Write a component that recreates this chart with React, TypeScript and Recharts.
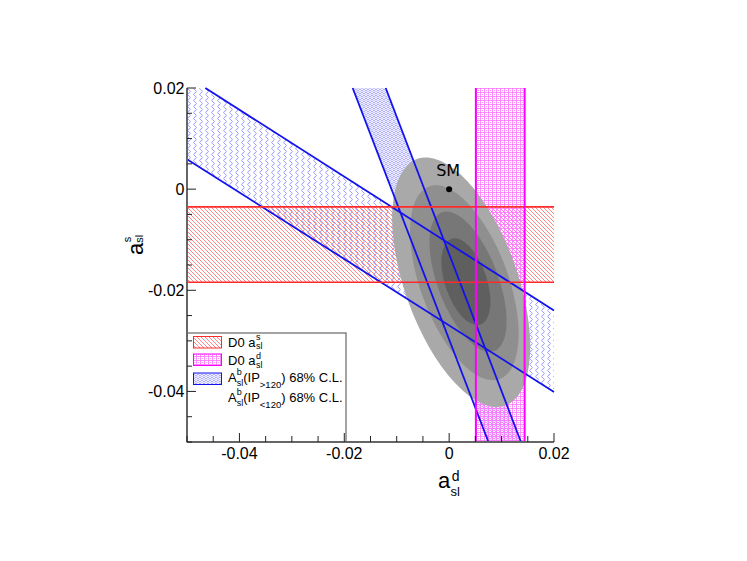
import { ScatterChart, Scatter, XAxis, YAxis, ReferenceLine } from "recharts";
import * as R from "recharts";

// axes
const X_DOMAIN = [-0.05, 0.02];
const Y_DOMAIN = [-0.05, 0.02];
const axisTicks = [
  -0.05, -0.045, -0.04, -0.035, -0.03, -0.025, -0.02, -0.015, -0.01, -0.005,
  0, 0.005, 0.01, 0.015, 0.02,
];
const xLabelTicks = [-0.04, -0.02, 0, 0.02];
const yLabelTicks = [0.02, 0, -0.02, -0.04];

// D0 a_sl^s : horizontal band (y range)
const d0AslsBand = [-0.0184, -0.0035];
// D0 a_sl^d : vertical band (x range)
const d0AsldBand = [0.0051, 0.0144];

// A_sl^b(IP) bands, edges where they meet the frame
const ipAboveUpper = [
  { x: -0.0465, y: 0.02 },
  { x: 0.02, y: -0.024 },
];
const ipAboveLower = [
  { x: -0.05, y: 0.0059 },
  { x: 0.02, y: -0.0401 },
];
const ipBelowLeft = [
  { x: -0.0184, y: 0.02 },
  { x: 0.0075, y: -0.05 },
];
const ipBelowRight = [
  { x: -0.0121, y: 0.02 },
  { x: 0.0137, y: -0.05 },
];

// combined fit contours, outer to inner
const ellipseCx = [0.0023, 0.0029, 0.0036, 0.0032];
const ellipseCy = [-0.0184, -0.0185, -0.0183, -0.0183];
const ellipseA = [0.0258, 0.0202, 0.0146, 0.0089];
const ellipseB = [0.0108, 0.0084, 0.0058, 0.004];
const ellipseAngle = [-71, -70.5, -70, -72];

const smPoint = [{ x: 0, y: 0 }];

const ELLIPSE_FILLS = ["#a9a9a9", "#8f8f8f", "#777777", "#5f5f5f"];
const BLUE = "#1212ee";
const RED = "#ff2a2a";
const MAGENTA = "#ff00ff";
const FRAME = "#666";
const FONT = "'Liberation Sans', Arial, Helvetica, sans-serif";

const CHART_W = 747;
const CHART_H = 561;
const Y_AXIS_W = 60;
const X_AXIS_H = 30;
const MARGIN = { top: 88, right: 193, bottom: 89, left: 127 };

function usePlot() {
  const plotHook = (R as any).usePlotArea;
  const area = plotHook ? plotHook() : undefined;
  if (area && area.width) return area;
  return {
    x: MARGIN.left + Y_AXIS_W,
    y: MARGIN.top,
    width: CHART_W - MARGIN.left - Y_AXIS_W - MARGIN.right,
    height: CHART_H - MARGIN.top - MARGIN.bottom - X_AXIS_H,
  };
}

function useScales() {
  const p = usePlot();
  const sx = (v: number) =>
    p.x + ((v - X_DOMAIN[0]) / (X_DOMAIN[1] - X_DOMAIN[0])) * p.width;
  const sy = (v: number) =>
    p.y + ((Y_DOMAIN[1] - v) / (Y_DOMAIN[1] - Y_DOMAIN[0])) * p.height;
  return { sx, sy, p };
}

const isLabel = (v: number, list: number[]) =>
  list.some((t) => Math.abs(t - v) < 1e-9);
const fmt = (v: number) => (Math.abs(v) < 1e-9 ? "0" : String(v));

function Patterns() {
  return (
    <defs>
      <pattern id="redHatch" patternUnits="userSpaceOnUse" width="4" height="4">
        <path d="M-1,-1 L5,5 M-1,3 L1,5 M3,-1 L5,1" stroke="#ff7a7a" strokeWidth="0.9" />
      </pattern>
      <pattern id="magentaGrid" patternUnits="userSpaceOnUse" width="4" height="4">
        <path d="M0,0.5 H4 M0.5,0 V4 M2.5,2 V3" stroke="#ff70ff" strokeWidth="0.8" fill="none" />
      </pattern>
      <pattern id="blueWave" patternUnits="userSpaceOnUse" width="6" height="6">
        <path
          d="M3,0 C4.8,1 4.8,2 3,3 C1.2,4 1.2,5 3,6"
          stroke="#9a9aff"
          strokeWidth="1"
          fill="none"
        />
      </pattern>
      <pattern id="blueDots" patternUnits="userSpaceOnUse" width="4" height="6">
        <circle cx="2" cy="1.5" r="1.2" stroke="#8a8aff" strokeWidth="0.7" fill="none" />
        <circle cx="0" cy="4.5" r="1.2" stroke="#8a8aff" strokeWidth="0.7" fill="none" />
        <circle cx="4" cy="4.5" r="1.2" stroke="#8a8aff" strokeWidth="0.7" fill="none" />
      </pattern>
    </defs>
  );
}

function Fills() {
  const { sx, sy } = useScales();
  const poly = (pts: { x: number; y: number }[]) =>
    pts.map((q) => `${sx(q.x)},${sy(q.y)}`).join(" ");

  const aboveBand = [
    { x: X_DOMAIN[0], y: Y_DOMAIN[1] },
    ...ipAboveUpper,
    ...[...ipAboveLower].reverse(),
  ];
  const belowBand = [...ipBelowLeft, ...[...ipBelowRight].reverse()];

  return (
    <g>
      <Patterns />
      <polygon points={poly(aboveBand)} fill="url(#blueWave)" />
      <polygon points={poly(belowBand)} fill="url(#blueDots)" />
      <rect
        x={sx(X_DOMAIN[0])}
        y={sy(d0AslsBand[1])}
        width={sx(X_DOMAIN[1]) - sx(X_DOMAIN[0])}
        height={sy(d0AslsBand[0]) - sy(d0AslsBand[1])}
        fill="url(#redHatch)"
      />
      <rect
        x={sx(d0AsldBand[0])}
        y={sy(Y_DOMAIN[1])}
        width={sx(d0AsldBand[1]) - sx(d0AsldBand[0])}
        height={sy(Y_DOMAIN[0]) - sy(Y_DOMAIN[1])}
        fill="url(#magentaGrid)"
      />
      {ellipseCx.map((cx, i) => {
        const cy = ellipseCy[i];
        const a = ellipseA[i];
        const b = ellipseB[i];
        const th = (ellipseAngle[i] * Math.PI) / 180;
        const c0 = sx(cx);
        const c1 = sy(cy);
        const ux = sx(cx + a * Math.cos(th)) - c0;
        const uy = sy(cy + a * Math.sin(th)) - c1;
        const vx = sx(cx - b * Math.sin(th)) - c0;
        const vy = sy(cy + b * Math.cos(th)) - c1;
        const rot = (Math.atan2(uy, ux) * 180) / Math.PI;
        return (
          <ellipse
            key={i}
            cx={c0}
            cy={c1}
            rx={Math.hypot(ux, uy)}
            ry={Math.hypot(vx, vy)}
            transform={`rotate(${rot} ${c0} ${c1})`}
            fill={ELLIPSE_FILLS[i]}
          />
        );
      })}
    </g>
  );
}

function Overlay() {
  const { p } = useScales();
  const lx = p.x;
  const bottom = p.y + p.height;
  return (
    <g fontFamily={FONT} fill="#000">
      {/* legend */}
      <rect x={lx} y={333} width={159} height={bottom - 333} fill="#fff" stroke={FRAME} strokeWidth={1.2} />
      <rect x={193.5} y={336.5} width={28} height={11.5} fill="url(#redHatch)" stroke={RED} strokeWidth={1} />
      <rect x={193.5} y={354} width={28} height={11.5} fill="url(#magentaGrid)" stroke={MAGENTA} strokeWidth={1} />
      <rect x={193.5} y={373} width={28} height={11.5} fill="url(#blueDots)" stroke={BLUE} strokeWidth={1} />

      <text x={228} y={346.5} fontSize={13}>
        D0 a<tspan fontSize={9} dx={0.5} dy={-6.5}>s</tspan>
        <tspan fontSize={9} dx={-4.5} dy={8.5}>sl</tspan>
      </text>
      <text x={228} y={365} fontSize={13}>
        D0 a<tspan fontSize={9} dx={0.5} dy={-6}>d</tspan>
        <tspan fontSize={9} dx={-5} dy={9}>sl</tspan>
      </text>

      {[
        { y: 382, sub: ">120" },
        { y: 402, sub: "<120" },
      ].map((row) => (
        <text key={row.sub} x={228} y={row.y} fontSize={13}>
          A<tspan fontSize={9} dy={-7}>b</tspan>
          <tspan fontSize={9} dx={-5} dy={10.5}>sl</tspan>
          <tspan fontSize={13} dy={-3.5}>(IP</tspan>
          <tspan fontSize={9.5} dy={5.5}>{row.sub}</tspan>
          <tspan fontSize={13} dy={-5.5}>) 68% C.L.</tspan>
        </text>
      ))}

      {/* x title */}
      <text x={438} y={488} fontSize={22}>
        a<tspan fontSize={14} dx={1.5} dy={-7.5}>d</tspan>
        <tspan fontSize={13} dx={-9} dy={15}>sl</tspan>
      </text>

      {/* y title */}
      <text transform="translate(143 255) rotate(-90)" fontSize={22}>
        a<tspan fontSize={11} dx={0.5} dy={-12}>s</tspan>
        <tspan fontSize={11} dx={-6} dy={12}>sl</tspan>
      </text>
    </g>
  );
}

function BottomTick(props: any) {
  const { x, y, payload } = props;
  const major = isLabel(payload.value, xLabelTicks);
  return (
    <g>
      <line x1={x} x2={x} y1={y} y2={y - (major ? 9 : 6)} stroke="#222" strokeWidth={1} />
      {major && (
        <text x={x} y={y + 17} textAnchor="middle" fontSize={16} fontFamily={FONT} fill="#000">
          {fmt(payload.value)}
        </text>
      )}
    </g>
  );
}

function TopTick(props: any) {
  const { x, y, payload } = props;
  const major = isLabel(payload.value, xLabelTicks);
  return <line x1={x} x2={x} y1={y} y2={y + (major ? 9 : 6)} stroke="#222" strokeWidth={1} />;
}

function LeftTick(props: any) {
  const { x, y, payload } = props;
  const major = isLabel(payload.value, yLabelTicks);
  return (
    <g>
      <line x1={x} x2={x + (major ? 9 : 5)} y1={y} y2={y} stroke="#222" strokeWidth={1} />
      {major && (
        <text x={x - 2.5} y={y} dy="0.35em" textAnchor="end" fontSize={16} fontFamily={FONT} fill="#000">
          {fmt(payload.value)}
        </text>
      )}
    </g>
  );
}

function RightTick(props: any) {
  const { x, y, payload } = props;
  const major = isLabel(payload.value, yLabelTicks);
  return <line x1={x} x2={x - (major ? 9 : 5)} y1={y} y2={y} stroke="#222" strokeWidth={1} />;
}

function SmShape(props: any) {
  const { cx, cy } = props;
  return (
    <g>
      <circle cx={cx} cy={cy} r={3} fill="#000" />
      <text x={cx - 1} y={cy - 13} textAnchor="middle" fontSize={16} fontFamily="'DejaVu Sans', sans-serif" fill="#000">
        SM
      </text>
    </g>
  );
}

export default function App() {
  const axisLine = { stroke: FRAME, strokeWidth: 2 };
  return (
    <div style={{ position: "absolute", left: 0, top: 0, background: "#fff" }}>
      <ScatterChart width={CHART_W} height={CHART_H} margin={MARGIN}>
        <XAxis
          type="number"
          dataKey="x"
          domain={X_DOMAIN}
          allowDataOverflow
          ticks={axisTicks}
          interval={0}
          tickSize={0}
          tickMargin={0}
          tickLine={false}
          axisLine={axisLine}
          tick={<BottomTick />}
          height={X_AXIS_H}
        />
        <XAxis
          xAxisId="top"
          orientation="top"
          type="number"
          domain={X_DOMAIN}
          allowDataOverflow
          ticks={axisTicks}
          interval={0}
          tickSize={0}
          tickMargin={0}
          tickLine={false}
          axisLine={axisLine}
          tick={<TopTick />}
          height={0}
        />
        <YAxis
          type="number"
          dataKey="y"
          domain={Y_DOMAIN}
          allowDataOverflow
          ticks={axisTicks}
          interval={0}
          tickSize={0}
          tickMargin={0}
          tickLine={false}
          axisLine={axisLine}
          tick={<LeftTick />}
          width={Y_AXIS_W}
        />
        <YAxis
          yAxisId="right"
          orientation="right"
          type="number"
          domain={Y_DOMAIN}
          allowDataOverflow
          ticks={axisTicks}
          interval={0}
          tickSize={0}
          tickMargin={0}
          tickLine={false}
          axisLine={axisLine}
          tick={<RightTick />}
          width={0}
        />

        <Fills />

        <ReferenceLine segment={ipAboveUpper} stroke={BLUE} strokeWidth={1.8} ifOverflow="visible" />
        <ReferenceLine segment={ipAboveLower} stroke={BLUE} strokeWidth={1.8} ifOverflow="visible" />
        <ReferenceLine segment={ipBelowLeft} stroke={BLUE} strokeWidth={1.8} ifOverflow="visible" />
        <ReferenceLine segment={ipBelowRight} stroke={BLUE} strokeWidth={1.8} ifOverflow="visible" />
        <ReferenceLine y={d0AslsBand[0]} stroke={RED} strokeWidth={1.6} ifOverflow="visible" />
        <ReferenceLine y={d0AslsBand[1]} stroke={RED} strokeWidth={1.6} ifOverflow="visible" />
        <ReferenceLine x={d0AsldBand[0]} stroke={MAGENTA} strokeWidth={2} ifOverflow="visible" />
        <ReferenceLine x={d0AsldBand[1]} stroke={MAGENTA} strokeWidth={2} ifOverflow="visible" />

        <Scatter data={smPoint} dataKey="y" shape={<SmShape />} isAnimationActive={false} />

        <Overlay />
      </ScatterChart>
    </div>
  );
}
